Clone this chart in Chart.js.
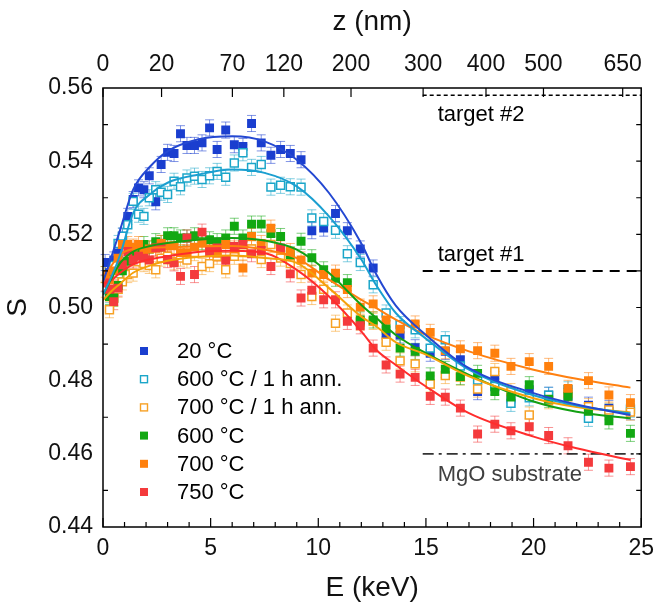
<!DOCTYPE html>
<html>
<head>
<meta charset="utf-8">
<script src="https://cdn.jsdelivr.net/npm/chart.js@4.4.1/dist/chart.umd.min.js"></script>
<style>
  html, body { margin: 0; padding: 0; background: #fff; }
  canvas { display: block; }
</style>
</head>
<body>
<canvas id="chart" width="662" height="606"></canvas>
<script>
// positron energies (keV), shared by all samples
const energies = [0.1, 0.3, 0.5, 0.7, 0.9, 1.15, 1.4, 1.65, 1.9, 2.15, 2.45, 2.7, 3.0, 3.3, 3.6, 3.9, 4.25, 4.6, 4.95, 5.3,
  5.7, 6.1, 6.5, 6.9, 7.35, 7.8, 8.25, 8.7, 9.2, 9.7, 10.25, 10.8, 11.35, 11.95, 12.55, 13.15, 13.8, 14.5, 15.2, 15.9,
  16.6, 17.4, 18.2, 18.95, 19.8, 20.7, 21.6, 22.55, 23.5, 24.5];

// S parameter per sample
const s20C = [0.5123, 0.5095, 0.5130, 0.5149, 0.5195, 0.5249, 0.5295, 0.5327, 0.5322, 0.5360, 0.5289, 0.5391, 0.5424, 0.5421, 0.5475, 0.5443, 0.5443, 0.5450, 0.5491, 0.5432,
  0.5485, 0.5445, 0.5440, 0.5503, 0.5450, 0.5416, 0.5432, 0.5421, 0.5404, 0.5210, 0.5217, 0.5257, 0.5210, 0.5160, 0.5108, 0.4925, 0.4925, 0.4890, 0.4875, 0.4880,
  0.4857, 0.4770, 0.4803, 0.4750, 0.4775, 0.4760, 0.4757, 0.4733, 0.4724, 0.4715];
const s600ann = [0.5065, 0.5035, 0.5115, 0.5175, 0.5195, 0.5226, 0.5290, 0.5255, 0.5249, 0.5300, 0.5322, 0.5315, 0.5309, 0.5345, 0.5330, 0.5354, 0.5359, 0.5350, 0.5360, 0.5372,
  0.5356, 0.5395, 0.5423, 0.5383, 0.5391, 0.5329, 0.5334, 0.5330, 0.5329, 0.5245, 0.5235, 0.5211, 0.5147, 0.5123, 0.5062, 0.4985, 0.4953, 0.4939, 0.4889, 0.4912,
  0.4840, 0.4802, 0.4784, 0.4738, 0.4753, 0.4760, 0.4775, 0.4697, 0.4715, 0.4722];
const s700ann = [0.5050, 0.4994, 0.5025, 0.5050, 0.5070, 0.5090, 0.5094, 0.5125, 0.5120, 0.5115, 0.5103, 0.5135, 0.5140, 0.5125, 0.5135, 0.5130, 0.5150, 0.5112, 0.5120, 0.5140,
  0.5103, 0.5140, 0.5150, 0.5160, 0.5131, 0.5172, 0.5135, 0.5120, 0.5090, 0.5030, 0.5050, 0.4957, 0.4985, 0.4960, 0.4962, 0.4905, 0.4854, 0.4846, 0.4791, 0.4814,
  0.4810, 0.4777, 0.4825, 0.4770, 0.4706, 0.4745, 0.4765, 0.4729, 0.4720, 0.4714];
const s600C = [0.5090, 0.5030, 0.5026, 0.5060, 0.5100, 0.5126, 0.5140, 0.5150, 0.5172, 0.5160, 0.5180, 0.5175, 0.5196, 0.5196, 0.5190, 0.5190, 0.5196, 0.5180, 0.5185, 0.5180,
  0.5190, 0.5222, 0.5190, 0.5228, 0.5228, 0.5202, 0.5194, 0.5144, 0.5181, 0.5136, 0.5103, 0.5080, 0.5068, 0.4966, 0.4966, 0.4942, 0.4889, 0.4880, 0.4813, 0.4831,
  0.4811, 0.4820, 0.4770, 0.4755, 0.4789, 0.4749, 0.4757, 0.4716, 0.4690, 0.4656];
const s700C = [0.5090, 0.5075, 0.5100, 0.5135, 0.5172, 0.5172, 0.5165, 0.5172, 0.5150, 0.5160, 0.5162, 0.5175, 0.5168, 0.5169, 0.5150, 0.5150, 0.5165, 0.5176, 0.5160, 0.5148,
  0.5172, 0.5160, 0.5108, 0.5194, 0.5175, 0.5217, 0.5160, 0.5153, 0.5130, 0.5094, 0.5090, 0.5094, 0.5049, 0.5001, 0.5010, 0.4966, 0.4941, 0.4955, 0.4932, 0.4882,
  0.4887, 0.4882, 0.4875, 0.4839, 0.4852, 0.4839, 0.4779, 0.4800, 0.4761, 0.4740];
const s750C = [0.5067, 0.5050, 0.5016, 0.5053, 0.5117, 0.5153, 0.5130, 0.5140, 0.5135, 0.5130, 0.5163, 0.5165, 0.5131, 0.5122, 0.5085, 0.5190, 0.5090, 0.5206, 0.5153, 0.5163,
  0.5129, 0.5167, 0.5172, 0.5147, 0.5156, 0.5112, 0.5163, 0.5092, 0.5026, 0.5047, 0.5021, 0.5021, 0.4962, 0.4950, 0.4889, 0.4843, 0.4818, 0.4809, 0.4757, 0.4755,
  0.4725, 0.4654, 0.4681, 0.4663, 0.4674, 0.4650, 0.4622, 0.4577, 0.4561, 0.4565];
const sError = 0.0022; // typical S uncertainty

// fitted curves
const fitE = [0, 0.4, 0.8, 1.4, 2.2, 3, 4.4, 6, 7.5, 9, 10.5, 12, 12.7, 13.6, 15, 17, 20, 22, 24.5];
const fit20C = [0.5070, 0.5140, 0.5213, 0.5322, 0.5386, 0.5427, 0.5459, 0.5468, 0.5454, 0.5404, 0.5313, 0.5175, 0.5090, 0.5005, 0.4925, 0.4834, 0.4766, 0.4735, 0.4706];
const fit600ann = [0.5035, 0.5085, 0.5145, 0.5258, 0.5310, 0.5341, 0.5363, 0.5377, 0.5368, 0.5331, 0.5249, 0.5131, 0.5060, 0.4985, 0.4915, 0.4830, 0.4760, 0.4732, 0.4710];
const fit700ann = [0.5020, 0.5045, 0.5065, 0.5095, 0.5115, 0.5128, 0.5138, 0.5142, 0.5135, 0.5122, 0.5053, 0.4975, 0.4948, 0.4905, 0.4871, 0.4812, 0.4752, 0.4728, 0.4713];
const fit600C = [0.5035, 0.5080, 0.5122, 0.5153, 0.5168, 0.5176, 0.5185, 0.5190, 0.5183, 0.5158, 0.5094, 0.5007, 0.4971, 0.4925, 0.4875, 0.4816, 0.4743, 0.4715, 0.4697];
const fit700C = [0.5070, 0.5115, 0.5145, 0.5160, 0.5163, 0.5165, 0.5167, 0.5168, 0.5158, 0.5135, 0.5076, 0.5021, 0.4998, 0.4967, 0.4925, 0.4880, 0.4830, 0.4805, 0.4781];
const fit750C = [0.5065, 0.5075, 0.5095, 0.5118, 0.5132, 0.5140, 0.5152, 0.5155, 0.5149, 0.5103, 0.5030, 0.4935, 0.4884, 0.4843, 0.4784, 0.4711, 0.4647, 0.4615, 0.4583];

const seriesLabels = ['20 °C', '600 °C / 1 h ann.', '700 °C / 1 h ann.', '600 °C', '700 °C', '750 °C'];

// reference levels
const refLabels = ['target #2', 'target #1', 'MgO substrate'];
const refS = [0.558, 0.510, 0.460];
const refStartE = 14.85;

// top axis: mean positron depth
const zTickLabels = ['0', '20', '70', '120', '200', '300', '400', '500', '650'];
const zTickE = [0, 2.72, 6.01, 8.40, 11.52, 14.87, 17.79, 20.46, 24.14];

const FONT = '"Liberation Sans", Arial, sans-serif';

const series = [
  { label: seriesLabels[0], s: s20C, fit: fit20C, color: '#1a3ecf', line: '#2448d2', hollow: false },
  { label: seriesLabels[1], s: s600ann, fit: fit600ann, color: '#1ba6c9', line: '#1b9fd0', hollow: true },
  { label: seriesLabels[2], s: s700ann, fit: fit700ann, color: '#f7a125', line: '#f5a10a', hollow: true },
  { label: seriesLabels[3], s: s600C, fit: fit600C, color: '#12a812', line: '#14a014', hollow: false },
  { label: seriesLabels[4], s: s700C, fit: fit700C, color: '#ff800d', line: '#ff8010', hollow: false },
  { label: seriesLabels[5], s: s750C, fit: fit750C, color: '#f43a3c', line: '#ff2d2d', hollow: false }
];

function fade(hex, a) {
  const n = parseInt(hex.slice(1), 16);
  return 'rgba(' + (n >> 16) + ',' + ((n >> 8) & 255) + ',' + (n & 255) + ',' + a + ')';
}

const datasets = [];
series.forEach(function(sr, k) {
  datasets.push({
    type: 'scatter',
    label: sr.label,
    data: energies.map(function(e, i) { return { x: e, y: sr.s[i] }; }),
    pointStyle: 'rect',
    pointRadius: sr.hollow ? 5.6 : 6.3,
    backgroundColor: sr.hollow ? '#ffffff' : sr.color,
    borderColor: sr.color,
    borderWidth: sr.hollow ? 1.5 : 0,
    order: 20 - k,
    errColor: fade(sr.color, 0.55)
  });
});
series.forEach(function(sr) {
  datasets.push({
    type: 'line',
    data: fitE.map(function(e, i) { return { x: e, y: sr.fit[i] }; }),
    borderColor: sr.line,
    borderWidth: 2,
    pointRadius: 0,
    cubicInterpolationMode: 'monotone',
    fill: false,
    order: 1
  });
});
const refDash = [[4, 3], [10, 7], [11, 5, 3, 5]];
const refWidth = [1.5, 2, 1.6];
refS.forEach(function(s, k) {
  datasets.push({
    type: 'line',
    data: [{ x: refStartE, y: s }, { x: 25, y: s }],
    borderColor: k === 2 ? '#333' : '#000',
    borderWidth: refWidth[k],
    borderDash: refDash[k],
    pointRadius: 0,
    fill: false,
    order: 2
  });
});

const decor = {
  id: 'decor',
  beforeDatasetsDraw(chart) {
    const ctx = chart.ctx, xs = chart.scales.x, ys = chart.scales.y;
    ctx.save();
    ctx.lineWidth = 1;
    chart.data.datasets.forEach(function(ds) {
      if (!ds.errColor) return;
      ctx.strokeStyle = ds.errColor;
      ds.data.forEach(function(p) {
        const x = xs.getPixelForValue(p.x);
        const y1 = ys.getPixelForValue(p.y - sError);
        const y2 = ys.getPixelForValue(p.y + sError);
        ctx.beginPath();
        ctx.moveTo(x, y1); ctx.lineTo(x, y2);
        ctx.moveTo(x - 4.5, y1); ctx.lineTo(x + 4.5, y1);
        ctx.moveTo(x - 4.5, y2); ctx.lineTo(x + 4.5, y2);
        ctx.stroke();
      });
    });
    ctx.restore();
  },
  afterDraw(chart) {
    const ctx = chart.ctx, a = chart.chartArea;
    const xs = chart.scales.x, ys = chart.scales.y;
    ctx.save();
    ctx.strokeStyle = '#000';
    ctx.lineWidth = 1.5;
    ctx.strokeRect(a.left, a.top, a.right - a.left, a.bottom - a.top);
    ctx.lineWidth = 1.2;
    ctx.beginPath();
    for (let e = 0; e <= 25; e++) {
      const x = xs.getPixelForValue(e);
      const len = e % 5 === 0 ? 9 : 5;
      ctx.moveTo(x, a.bottom); ctx.lineTo(x, a.bottom - len);
    }
    zTickE.forEach(function(e) {
      const x = xs.getPixelForValue(e);
      ctx.moveTo(x, a.top); ctx.lineTo(x, a.top + 9);
    });
    for (let k = 1; k < 12; k++) {
      const y = ys.getPixelForValue(0.44 + k * 0.01);
      if (k % 2 === 1) { ctx.moveTo(a.left, y); ctx.lineTo(a.left + 5, y); }
      ctx.moveTo(a.right, y); ctx.lineTo(a.right - 5, y);
    }
    ctx.stroke();

    // reference labels
    ctx.font = '22px ' + FONT;
    ctx.textBaseline = 'middle';
    ctx.textAlign = 'left';
    const lx = xs.getPixelForValue(refStartE) + 15;
    ctx.fillStyle = '#000';
    ctx.fillText(refLabels[0], lx, ys.getPixelForValue(refS[0]) + 20);
    ctx.fillText(refLabels[1], lx, ys.getPixelForValue(refS[1]) - 16);
    ctx.fillStyle = '#404040';
    ctx.fillText(refLabels[2], lx, ys.getPixelForValue(refS[2]) + 21);

    // legend
    series.forEach(function(sr, k) {
      const y = 351 + k * 28.2;
      if (sr.hollow) {
        ctx.fillStyle = '#fff';
        ctx.fillRect(140.5, y - 3.5, 7, 7);
        ctx.strokeStyle = sr.color;
        ctx.lineWidth = 1.4;
        ctx.strokeRect(140.5, y - 3.5, 7, 7);
      } else {
        ctx.fillStyle = sr.color;
        ctx.fillRect(140, y - 4, 8, 8);
      }
      ctx.fillStyle = '#000';
      ctx.fillText(sr.label, 177, y + 1);
    });
    ctx.restore();
  }
};

const tickFont = { family: FONT, size: 23 };
const titleFont = { family: FONT, size: 28 };

new Chart(document.getElementById('chart').getContext('2d'), {
  type: 'scatter',
  data: { datasets: datasets },
  options: {
    responsive: false,
    animation: false,
    devicePixelRatio: 1,
    layout: { padding: { right: 12, left: 0, top: 0, bottom: 0 } },
    plugins: { legend: { display: false }, tooltip: { enabled: false } },
    scales: {
      x: {
        type: 'linear', position: 'bottom', min: 0, max: 25,
        afterFit: function(s) { s.height = 79; },
        grid: { display: false, drawTicks: false },
        border: { display: false },
        ticks: { stepSize: 5, font: tickFont, color: '#111', padding: 8, maxRotation: 0 },
        title: { display: true, text: 'E (keV)', font: titleFont, color: '#111', padding: { top: 0, bottom: 1 } }
      },
      x2: {
        type: 'linear', position: 'top', min: 0, max: 25,
        afterFit: function(s) { s.height = 88; },
        afterBuildTicks: function(s) { s.ticks = zTickE.map(function(v) { return { value: v }; }); },
        grid: { display: false, drawTicks: false },
        border: { display: false },
        ticks: {
          font: tickFont, color: '#111', padding: 10, maxRotation: 0, autoSkip: false,
          callback: function(v, i) { return zTickLabels[i]; }
        },
        title: { display: true, text: 'z (nm)', font: titleFont, color: '#111', padding: { top: 5, bottom: 0 } }
      },
      y: {
        type: 'linear', min: 0.44, max: 0.56,
        afterFit: function(s) { s.width = 103; },
        grid: { display: false, drawTicks: false },
        border: { display: false },
        ticks: { stepSize: 0.02, font: tickFont, color: '#111', padding: 10,
          callback: function(v) { return v.toFixed(2); } },
        title: { display: true, text: 'S', font: titleFont, color: '#111', padding: { top: 1, bottom: 0 } }
      }
    }
  },
  plugins: [decor]
});
</script>
</body>
</html>
